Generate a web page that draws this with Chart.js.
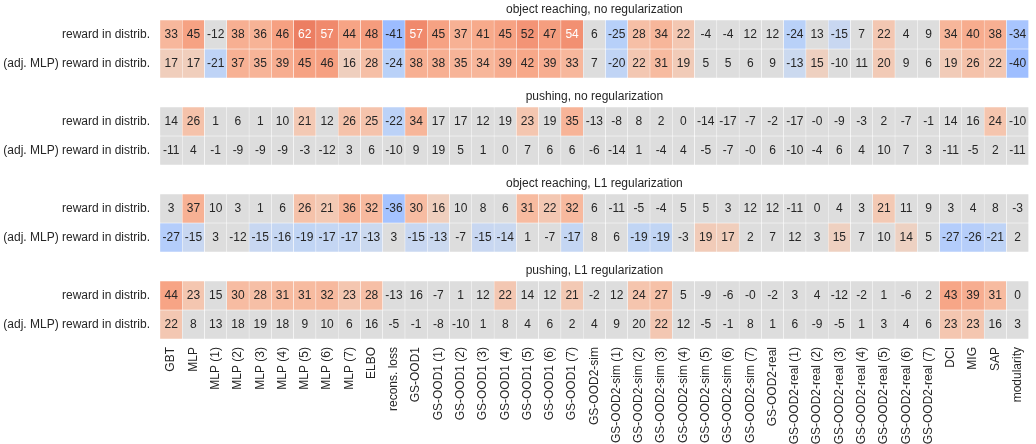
<!DOCTYPE html>
<html>
<head>
<meta charset="utf-8">
<script src="https://cdn.jsdelivr.net/npm/chart.js@4/dist/chart.umd.min.js"></script>
<style>
  html, body { margin: 0; padding: 0; overflow: hidden; background: #ffffff; }
  #wrap { width: 1040px; height: 444px; }
</style>
</head>
<body>
<div id="wrap"><canvas id="heat" width="1040" height="444"></canvas></div>
<script>
// Methods (columns)
const methods = [
  "GBT", "MLP", "MLP (1)", "MLP (2)", "MLP (3)", "MLP (4)", "MLP (5)", "MLP (6)", "MLP (7)",
  "ELBO", "recons. loss",
  "GS-OOD1", "GS-OOD1 (1)", "GS-OOD1 (2)", "GS-OOD1 (3)", "GS-OOD1 (4)", "GS-OOD1 (5)", "GS-OOD1 (6)", "GS-OOD1 (7)",
  "GS-OOD2-sim", "GS-OOD2-sim (1)", "GS-OOD2-sim (2)", "GS-OOD2-sim (3)", "GS-OOD2-sim (4)", "GS-OOD2-sim (5)", "GS-OOD2-sim (6)", "GS-OOD2-sim (7)",
  "GS-OOD2-real", "GS-OOD2-real (1)", "GS-OOD2-real (2)", "GS-OOD2-real (3)", "GS-OOD2-real (4)", "GS-OOD2-real (5)", "GS-OOD2-real (6)", "GS-OOD2-real (7)",
  "DCI", "MIG", "SAP", "modularity"
];

const panelTitles = [
  "object reaching, no regularization",
  "pushing, no regularization",
  "object reaching, L1 regularization",
  "pushing, L1 regularization"
];

const rowLabels = ["reward in distrib.", "(adj. MLP) reward in distrib."];

// Rank correlations (x100) per method
const reachNoRegReward = [33, 45, -12, 38, 36, 46, 62, 57, 44, 48, -41, 57, 45, 37, 41, 45, 52, 47, 54, 6, -25, 28, 34, 22, -4, -4, 12, 12, -24, 13, -15, 7, 22, 4, 9, 34, 40, 38, -34];
const reachNoRegAdj    = [17, 17, -21, 37, 35, 39, 45, 46, 16, 28, -24, 38, 38, 35, 34, 39, 42, 39, 33, 7, -20, 22, 31, 19, 5, 5, 6, 9, -13, 15, -10, 11, 20, 9, 6, 19, 26, 22, -40];
const pushNoRegReward  = [14, 26, 1, 6, 1, 10, 21, 12, 26, 25, -22, 34, 17, 17, 12, 19, 23, 19, 35, -13, -8, 8, 2, 0, -14, -17, -7, -2, -17, -0, -9, -3, 2, -7, -1, 14, 16, 24, -10];
const pushNoRegAdj     = [-11, 4, -1, -9, -9, -9, -3, -12, 3, 6, -10, 9, 19, 5, 1, 0, 7, 6, 6, -6, -14, 1, -4, 4, -5, -7, -0, 6, -10, -4, 6, 4, 10, 7, 3, -11, -5, 2, -11];
const reachL1Reward    = [3, 37, 10, 3, 1, 6, 26, 21, 36, 32, -36, 30, 16, 10, 8, 6, 31, 22, 32, 6, -11, -5, -4, 5, 5, 3, 12, 12, -11, 0, 4, 3, 21, 11, 9, 3, 4, 8, -3];
const reachL1Adj       = [-27, -15, 3, -12, -15, -16, -19, -17, -17, -13, 3, -15, -13, -7, -15, -14, 1, -7, -17, 8, 6, -19, -19, -3, 19, 17, 2, 7, 12, 3, 15, 7, 10, 14, 5, -27, -26, -21, 2];
const pushL1Reward     = [44, 23, 15, 30, 28, 31, 31, 32, 23, 28, -13, 16, -7, 1, 12, 22, 14, 12, 21, -2, 12, 24, 27, 5, -9, -6, -0, -2, 3, 4, -12, -2, 1, -6, 2, 43, 39, 31, 0];
const pushL1Adj        = [22, 8, 13, 18, 19, 18, 9, 10, 6, 16, -5, -1, -8, -10, 1, 8, 4, 6, 2, 4, 9, 20, 22, 12, -5, -1, 8, 1, 6, -9, -5, 1, 3, 4, 6, 23, 23, 16, 3];

// Magnitude below which a correlation is not significant (drawn neutral)
const noiseLevel = [14, 12, 20, 20, 14, 12.5, 18, 21];

const rows = [reachNoRegReward, reachNoRegAdj, pushNoRegReward, pushNoRegAdj,
              reachL1Reward, reachL1Adj, pushL1Reward, pushL1Adj];

// Each panel takes two row units plus one unit of spacing
const rowCenters = rows.map((_, i) => Math.floor(i / 2) * 3 + (i % 2));

// coolwarm colour map samples
const coolwarm = [
  [59,76,192],[68,90,204],[77,104,215],[87,117,225],[98,130,234],[108,142,241],[119,154,247],[130,165,251],
  [141,176,254],[152,185,255],[163,194,255],[174,201,253],[184,208,249],[194,213,244],[204,217,238],[213,219,230],
  [221,221,221],[229,216,209],[236,211,197],[241,204,185],[245,196,173],[247,187,160],[247,177,148],[247,166,135],
  [244,154,123],[241,141,111],[236,127,99],[229,112,88],[222,96,77],[213,80,66],[203,62,56],[192,40,47],[180,4,38]
];
const COLOR_RANGE = 98.5;

function cmap(t) {
  t = Math.max(0, Math.min(1, t));
  const f = t * (coolwarm.length - 1);
  const i = Math.min(coolwarm.length - 2, Math.floor(f));
  const u = f - i;
  const a = coolwarm[i], b = coolwarm[i + 1];
  return [0, 1, 2].map(k => Math.round(a[k] + (b[k] - a[k]) * u));
}
function cellRGB(v, noise) {
  if (Math.abs(v) < noise) return cmap(0.5);
  return cmap(0.5 + v / (2 * COLOR_RANGE));
}
function luminance(rgb) {
  const lin = rgb.map(c => { c /= 255; return c <= 0.03928 ? c / 12.92 : Math.pow((c + 0.055) / 1.055, 2.4); });
  return 0.2126 * lin[0] + 0.7152 * lin[1] + 0.0722 * lin[2];
}
function fmt(v) { return Object.is(v, -0) ? "-0" : String(v); }

const FONT = '"Liberation Sans", Arial, Helvetica, sans-serif';
const TEXT = '#262626';

const datasets = rows.map((vals, i) => ({
  label: panelTitles[Math.floor(i / 2)] + ' / ' + rowLabels[i % 2],
  data: vals.map(() => [rowCenters[i] - 0.5, rowCenters[i] + 0.5]),
  values: vals,
  rgb: vals.map(v => cellRGB(v, noiseLevel[i])),
  backgroundColor: vals.map(v => { const c = cellRGB(v, noiseLevel[i]); return `rgb(${c[0]},${c[1]},${c[2]})`; }),
  borderColor: '#ffffff',
  borderWidth: 0.5,
  borderSkipped: false,
  barPercentage: 1,
  categoryPercentage: 1
}));

// Writes each correlation inside its cell
const cellText = {
  id: 'cellText',
  afterDatasetsDraw(chart) {
    const ctx = chart.ctx;
    ctx.save();
    ctx.font = `12px ${FONT}`;
    ctx.textAlign = 'center';
    ctx.textBaseline = 'middle';
    chart.data.datasets.forEach((ds, di) => {
      chart.getDatasetMeta(di).data.forEach((bar, j) => {
        const rgb = ds.rgb[j];
        ctx.fillStyle = luminance(rgb) > 0.408 ? TEXT : '#ffffff';
        ctx.fillText(fmt(ds.values[j]), bar.x, (bar.y + bar.base) / 2 + 0.5);
      });
    });
    ctx.restore();
  }
};

// Title above each panel
const panelHeads = {
  id: 'panelHeads',
  afterDraw(chart) {
    const ctx = chart.ctx;
    const ys = chart.scales.y;
    const area = chart.chartArea;
    ctx.save();
    ctx.font = `12px ${FONT}`;
    ctx.fillStyle = TEXT;
    ctx.textAlign = 'center';
    ctx.textBaseline = 'middle';
    panelTitles.forEach((t, p) => {
      const top = ys.getPixelForValue(p * 3 - 0.5);
      ctx.fillText(t, (area.left + area.right) / 2, top - 10);
    });
    ctx.restore();
  }
};

new Chart(document.getElementById('heat'), {
  type: 'bar',
  data: { labels: methods, datasets },
  options: {
    responsive: false,
    animation: false,
    devicePixelRatio: 1,
    layout: { padding: { top: 20, right: 2.5, left: 0, bottom: 0 } },
    plugins: { legend: { display: false }, tooltip: { enabled: false }, title: { display: false } },
    scales: {
      x: {
        stacked: true,
        grid: { display: false, drawTicks: false },
        border: { display: false },
        ticks: {
          autoSkip: false, maxRotation: 90, minRotation: 90, padding: 8,
          color: TEXT, font: { family: FONT, size: 12 }
        },
        afterFit(scale) { scale.height = 105; }
      },
      y: {
        type: 'linear',
        stacked: false,
        reverse: true,
        min: -0.5,
        max: 10.5,
        grid: { display: false, drawTicks: false },
        border: { display: false },
        afterBuildTicks(scale) { scale.ticks = rowCenters.map(v => ({ value: v })); },
        ticks: {
          autoSkip: false, padding: 10, color: TEXT, font: { family: FONT, size: 12 },
          callback: (value) => rowLabels[Math.round(value) % 3]
        },
        afterFit(scale) { scale.width = 160; }
      }
    }
  },
  plugins: [cellText, panelHeads]
});
</script>
</body>
</html>
